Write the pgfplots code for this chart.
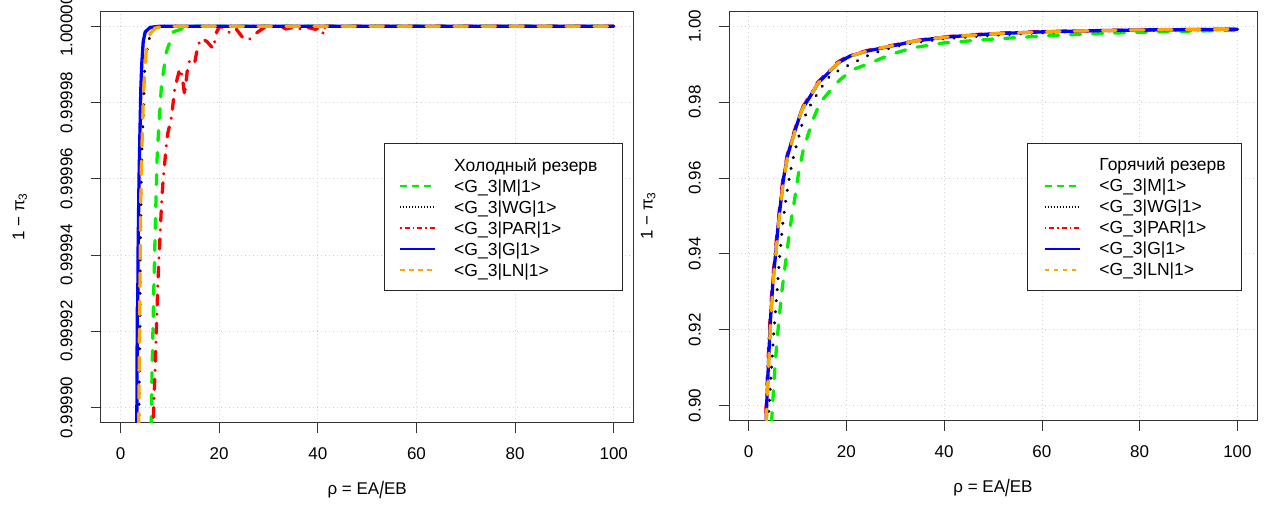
\documentclass[border=0pt]{standalone}
\usepackage{fontspec}
\setmainfont{Liberation Sans}
\usepackage{pgfplots}
\pgfplotsset{compat=1.18}
\definecolor{rgreen}{RGB}{0,240,0}
\definecolor{rred}{RGB}{255,0,0}
\definecolor{rblue}{RGB}{0,0,255}
\definecolor{rorange}{RGB}{255,165,0}
\newcommand{\fs}{\fontsize{17}{20}\selectfont}
\newcommand{\lfs}{\fontsize{17.5}{20}\selectfont}
\pgfplotsset{
  legstyle/.style={
    legend image code/.code={\draw[##1] (0pt,0pt) -- (35pt,0pt);},
    legend cell align=left,
    legend style={draw=black!85, line width=1pt, inner xsep=16pt, inner ysep=13.5pt,
      row sep=6pt, font=\lfs,
      nodes={inner sep=0pt, text height=13pt, text depth=2pt},
      /tikz/every odd column/.append style={column sep=19pt}},
  },
  rstyle/.style={
    scale only axis,
    xmin=-4, xmax=104,
    xtick={0,20,40,60,80,100},
    /pgf/number format/assume math mode=true,
    tick align=outside, major tick length=10pt,
    tick pos=left,
    tick style={black!80, line width=0.8pt},
    axis line style={black!80, line width=1pt},
    grid=major,
    grid style={black!18, line width=0.8pt, dash pattern=on 1pt off 3pt},
    every axis/.append style={font=\fs},
    ticklabel style={font=\fs},
    xticklabel style={anchor=north, inner ysep=15pt},
    yticklabel style={rotate=90, anchor=south, inner ysep=18pt},
    label style={font=\fs},
    legstyle,
  },
  gM/.style={draw=rgreen, line width=3.3pt, line cap=round, dash pattern=on 10pt off 12pt},
  gWG/.style={draw=black, line width=3.3pt, line cap=round, dash pattern=on 0.1pt off 11pt},
  gPAR/.style={draw=rred, line width=3.3pt, line cap=round, dash pattern=on 0.1pt off 9pt on 10pt off 9pt},
  gG/.style={draw=rblue, line width=3.3pt, line cap=round},
  gLN/.style={draw=rorange, line width=3.3pt, line cap=round, dash pattern=on 13.5pt off 14.5pt},
  lM/.style={draw=rgreen, color=rgreen, line width=1.6pt, dash pattern=on 7pt off 5pt},
  lWG/.style={draw=black, line width=1.4pt, dash pattern=on 1.2pt off 1.8pt},
  lPAR/.style={draw=rred, color=rred, line width=1.6pt, dash pattern=on 1.5pt off 3pt on 5pt off 3pt},
  lG/.style={draw=rblue, color=rblue, line width=1.6pt},
  lLN/.style={draw=rorange, color=rorange, line width=1.6pt, dash pattern=on 4.5pt off 4.5pt},
}
\tikzset{
  tM/.style={rgreen, line width=1.6pt, dash pattern=on 7pt off 5pt},
  tWG/.style={black, line width=1.4pt, dash pattern=on 1.2pt off 1.8pt},
  tPAR/.style={rred, line width=1.6pt, dash pattern=on 1.5pt off 3pt on 5pt off 3pt},
  tG/.style={rblue, line width=1.6pt},
  tLN/.style={rorange, line width=1.6pt, dash pattern=on 4.5pt off 4.5pt},
}
\newcommand{\xlab}{ρ = EA\raisebox{-0.2em}{\scalebox{1}[1.4]{/}}EB}
\newcommand{\ylab}{1 − π\textsubscript{3}}
\newcommand{\legendrows}[1]{%
  \addlegendimage{empty legend}\addlegendentry{#1}
  \addlegendimage{lM}\addlegendentry{<G\_3|M|1>}
  \addlegendimage{lWG}\addlegendentry{<G\_3|WG|1>}
  \addlegendimage{lPAR}\addlegendentry{<G\_3|PAR|1>}
  \addlegendimage{lG}\addlegendentry{<G\_3|G|1>}
  \addlegendimage{lLN}\addlegendentry{<G\_3|LN|1>}}

% ---------------- cold reserve (left) ----------------
\pgfplotstableread{
x y
6.2 0.999895
6.4 0.99991
6.8 0.999934
7.1 0.99995
7.4 0.999965
7.6 0.99997
8.3 0.9999845
9.3 0.9999933
10.7 0.9999985
13.4 0.9999998
15 1.0
100 1.0
}\coldM
\pgfplotstableread{
x y
3.7 0.999895
3.9 0.999915
4.0 0.99994
4.2 0.99996
4.4 0.99997
4.6 0.999976
4.9 0.999989
5.6 0.999996
6.5 0.999999
7.5 1.0
100 1.0
}\coldWG
\pgfplotstableread{
x y
6.6 0.999895
7.0 0.99991
7.6 0.9999335
8.3 0.999953
8.6 0.999959
9.3 0.999969
9.6 0.999972
10.3 0.999976
11.0 0.9999836
12.0 0.9999889
12.5 0.999987
13.0 0.9999818
13.5 0.999988
14.0 0.999991
15.0 0.9999902
15.7 0.999995
16.4 0.9999968
17.5 0.999996
18.8 0.9999941
19.5 0.9999985
20.0 0.9999998
21.2 0.9999998
22.2 0.9999981
23.5 0.9999992
24.9 0.9999968
25.9 0.9999963
26.9 0.9999976
28.6 0.9999992
29.3 0.9999998
32.5 1.0
33.5 0.9999993
35.0 0.9999997
36.0 0.999999
37.0 1.0
38.5 0.9999995
39.5 0.9999992
40.5 0.9999997
41.2 0.9999978
41.5 1.0
60.5 1.0
61.0 0.9999995
61.5 1.0
100 1.0
}\coldPAR
\pgfplotstableread{
x y
3.3 0.999895
3.35 0.99991
3.4 0.999926
3.5 0.999927
3.55 0.99994
3.75 0.99996
3.9 0.99997
4.0 0.999976
4.1 0.999983
4.3 0.99999
4.6 0.999996
5.0 0.9999985
6.0 0.9999997
8.0 1.0
100 1.0
}\coldG
\pgfplotstableread{
x y
3.7 0.999895
3.8 0.999915
3.95 0.999935
4.05 0.99995
4.2 0.999962
4.4 0.999971
4.6 0.99998
4.9 0.999989
5.25 0.999994
6.0 0.999998
7.0 0.9999995
8.6 1.0
100 1.0
}\coldLN

% ---------------- hot reserve (right) ----------------
\pgfplotstableread{
x y
4.7 0.8955
5.0 0.902
5.5 0.912
6.1 0.921
6.8 0.930
7.5 0.937
8.5 0.947
9.5 0.955
10.2 0.961
11.2 0.9675
12.3 0.9719
12.9 0.9745
14.6 0.9798
16.3 0.9824
18.7 0.9859
21.4 0.9886
24.1 0.9899
27.5 0.9917
30.2 0.993
33.6 0.9943
40 0.9956
50 0.9966
60 0.9974
70 0.998
80 0.9984
90 0.9987
100 0.9989
}\hotM
\pgfplotstableread{
x y
4.0 0.8955
4.5 0.906
5.1 0.918
5.8 0.9297
6.4 0.940
7.0 0.948
7.7 0.955
8.5 0.9613
9.2 0.9657
11.2 0.9754
12.9 0.9798
14.6 0.9833
16.3 0.9864
18.7 0.9886
21.4 0.9903
24.1 0.9921
26.8 0.9934
30.2 0.9947
33.6 0.9956
40 0.9967
50 0.9976
60 0.9983
70 0.9987
80 0.9989
90 0.999
100 0.9991
}\hotWG
\pgfplotstableread{
x y
3.5 0.8955
3.6 0.9
3.8 0.906
4.1 0.915
4.4 0.923
4.9 0.933
5.4 0.9395
6.0 0.9481
7.0 0.9595
7.9 0.966
8.7 0.9695
9.4 0.9725
10.8 0.978
12.5 0.9817
14.2 0.9853
16.2 0.9879
18.2 0.9905
20.6 0.9923
24.0 0.9935
27.4 0.9945
30.8 0.9953
33.5 0.9961
40 0.9972
50 0.9981
60 0.9986
70 0.9988
80 0.999
90 0.9991
100 0.9992
}\hotPAR
\pgfplotstableread{
x y
3.6 0.8955
3.7 0.9
3.9 0.906
4.2 0.915
4.5 0.923
5.0 0.933
5.5 0.9395
6.1 0.9481
7.1 0.9595
8.0 0.966
8.8 0.9695
9.5 0.9725
10.9 0.978
12.6 0.9815
14.3 0.9851
16.3 0.9877
18.3 0.9903
20.7 0.9921
24.1 0.9934
27.5 0.9943
30.9 0.9952
33.6 0.996
40 0.9971
50 0.998
60 0.9985
70 0.9988
80 0.999
90 0.9991
100 0.9992
}\hotG
\pgfplotstableread{
x y
3.65 0.8955
3.75 0.9
3.95 0.906
4.25 0.915
4.55 0.923
5.05 0.933
5.55 0.9395
6.15 0.9481
7.15 0.9595
8.05 0.966
8.85 0.9695
9.55 0.9725
10.95 0.978
12.6 0.9815
14.3 0.9851
16.3 0.9878
18.3 0.9903
20.7 0.9921
24.1 0.9934
27.5 0.9944
30.9 0.9952
33.6 0.996
40 0.9971
50 0.998
60 0.9985
70 0.9988
80 0.999
90 0.9991
100 0.9992
}\hotLN

\begin{document}
\begin{tikzpicture}
\useasboundingbox (0pt,0pt) rectangle (1269pt,-506pt);
\begin{axis}[rstyle,
  at={(100.8pt,-422.7pt)}, anchor=south west,
  width=532.7pt, height=411.7pt,
  y coord trafo/.code={\edef\pgfmathresult{\fpeval{(#1-0.9999)*100000}}},
  ymin=0.999896, ymax=1.000004,
  ytick={0.9999,0.99992,0.99994,0.99996,0.99998,1.0},
  yticklabels={0.99990,0.99992,0.99994,0.99996,0.99998,1.00000},
  xlabel={\xlab}, ylabel={\ylab},
  xlabel style={at={(axis description cs:0.5,-0.1627)}, anchor=center},
  ylabel style={at={(axis description cs:-0.152,0.5)}, anchor=center},
]
\addplot[gM] table[x=x,y=y] {\coldM};
\addplot[gWG] table[x=x,y=y] {\coldWG};
\addplot[gPAR] table[x=x,y=y] {\coldPAR};
\addplot[gG] table[x=x,y=y] {\coldG};
\addplot[gLN] table[x=x,y=y] {\coldLN};
\end{axis}

\begin{axis}[rstyle,
  at={(729pt,-420.7pt)}, anchor=south west,
  width=528pt, height=409.7pt,
  ymin=0.896, ymax=1.004,
  ytick={0.90,0.92,0.94,0.96,0.98,1.00},
  yticklabels={0.90,0.92,0.94,0.96,0.98,1.00},
  xlabel={\xlab}, ylabel={\ylab},
  xlabel style={at={(axis description cs:0.5,-0.1635)}, anchor=center},
  ylabel style={at={(axis description cs:-0.153,0.5)}, anchor=center},
  legend style={at={(0.565,0.677)}, anchor=north west},
]
\legendrows{Горячий резерв}
\addplot[gM, forget plot] table[x=x,y=y] {\hotM};
\addplot[gWG, forget plot] table[x=x,y=y] {\hotWG};
\addplot[gPAR, forget plot] table[x=x,y=y] {\hotPAR};
\addplot[gG, forget plot] table[x=x,y=y] {\hotG};
\addplot[gLN, forget plot] table[x=x,y=y] {\hotLN};
\end{axis}

% legend box of the left panel, drawn as plain TikZ
\begin{scope}
\filldraw[draw=black!85, fill=white, line width=1pt] (384pt,-143pt) rectangle (622pt,-290pt);
\node[anchor=base west, inner sep=0pt, font=\lfs] at (454pt,-171.2pt) {Холодный резерв};
\draw[tM]   (400pt,-186pt) -- (435pt,-186pt);
\node[anchor=base west, inner sep=0pt, font=\lfs] at (454pt,-192.2pt) {<G\_3|M|1>};
\draw[tWG]  (400pt,-207pt) -- (435pt,-207pt);
\node[anchor=base west, inner sep=0pt, font=\lfs] at (454pt,-213.2pt) {<G\_3|WG|1>};
\draw[tPAR] (400pt,-228pt) -- (435pt,-228pt);
\node[anchor=base west, inner sep=0pt, font=\lfs] at (454pt,-234.2pt) {<G\_3|PAR|1>};
\draw[tG]   (400pt,-249pt) -- (435pt,-249pt);
\node[anchor=base west, inner sep=0pt, font=\lfs] at (454pt,-255.2pt) {<G\_3|G|1>};
\draw[tLN]  (400pt,-270pt) -- (435pt,-270pt);
\node[anchor=base west, inner sep=0pt, font=\lfs] at (454pt,-276.2pt) {<G\_3|LN|1>};
\end{scope}
\end{tikzpicture}
\end{document}
